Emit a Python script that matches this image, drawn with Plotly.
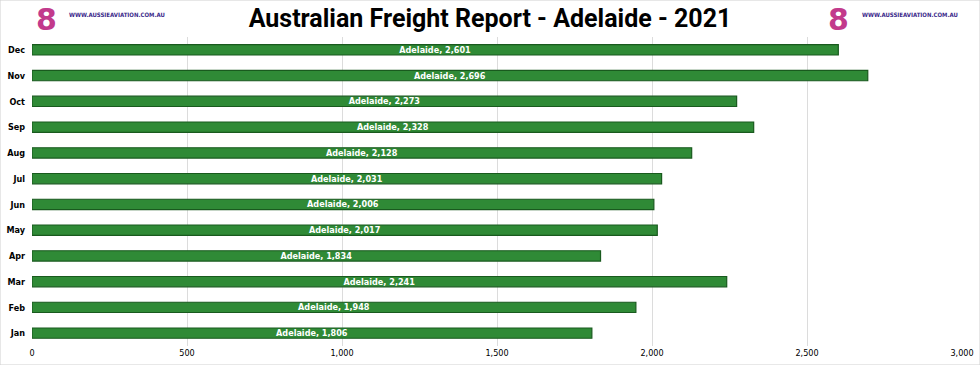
import plotly.graph_objects as go

months = ["Jan", "Feb", "Mar", "Apr", "May", "Jun", "Jul", "Aug", "Sep", "Oct", "Nov", "Dec"]
values = [1806, 1948, 2241, 1834, 2017, 2006, 2031, 2128, 2328, 2273, 2696, 2601]
series_name = "Adelaide"
x_ticks = [0, 500, 1000, 1500, 2000, 2500, 3000]
x_tick_labels = ["0", "500", "1,000", "1,500", "2,000", "2,500", "3,000"]

labels = [f"<b>{series_name}, {v:,}</b>" for v in values]
narrow = "Liberation Sans Narrow, DejaVu Sans Condensed, Arial Narrow, sans-serif"

fig = go.Figure()
fig.add_trace(go.Bar(
    y=months, x=values, orientation="h",
    text=labels, textposition="inside", insidetextanchor="middle",
    constraintext="none",
    textfont=dict(family=narrow, size=9, color="white"),
    marker=dict(color="#2f8a36", line=dict(color="#195a1e", width=1.2)),
    hoverinfo="x+y",
))

fig.update_layout(
    width=980, height=365,
    margin=dict(l=32, r=18, t=37, b=19),
    paper_bgcolor="white", plot_bgcolor="white",
    bargap=0.6,
    showlegend=False,
    title=dict(text="<b>Australian Freight Report - Adelaide - 2021</b>",
               x=0.5, xanchor="center", y=0.95, yanchor="middle",
               font=dict(family="Roboto, Open Sans, sans-serif", size=25, color="black")),
    xaxis=dict(range=[0, 3000], tickvals=x_ticks, ticktext=x_tick_labels,
               showgrid=True, gridcolor="#dcdcdc", gridwidth=1, zeroline=False,
               tickfont=dict(family=narrow, size=9, color="black"),
               ticks="", showline=False, fixedrange=True, automargin=False),
    yaxis=dict(categoryorder="array", categoryarray=months,
               tickfont=dict(family=narrow, size=9, color="black"),
               ticks="", ticklabelstandoff=6, showgrid=False, showline=False,
               fixedrange=True, automargin=False),
    font=dict(family="Liberation Sans, sans-serif"),
)

# bold tick labels
fig.update_xaxes(tickprefix="<b>", ticksuffix="</b>")
fig.update_yaxes(tickprefix="<b>", ticksuffix="</b>")

# logo texts (images not available)
def px_x(p):
    return (p - 32) / 930

def px_y(p):
    return 1 + (37 - p) / 309

for gx, tx in [(46, 67), (838, 860)]:
    fig.add_annotation(xref="paper", yref="paper", x=px_x(gx), y=px_y(19), xanchor="center", yanchor="middle",
                       text="<b>8</b>", showarrow=False,
                       font=dict(family="DejaVu Sans, sans-serif", size=30, color="#c23a8c"))
    fig.add_annotation(xref="paper", yref="paper", x=px_x(tx), y=px_y(15), xanchor="left", yanchor="middle",
                       text="<b>WWW.AUSSIEAVIATION.COM.AU</b>", showarrow=False,
                       font=dict(family="DejaVu Sans Condensed, sans-serif", size=6, color="#3b2a8a"))

# outer frame
fig.add_shape(type="rect", xref="paper", yref="paper", x0=-32/930, x1=1+18/930, y0=-19/309, y1=1+37/309,
              line=dict(color="#d0d0d0", width=1), fillcolor="rgba(0,0,0,0)")

fig.write_html("out.html", config={"displayModeBar": False},
               post_script="document.body.style.margin='0';document.body.style.overflow='hidden';")
